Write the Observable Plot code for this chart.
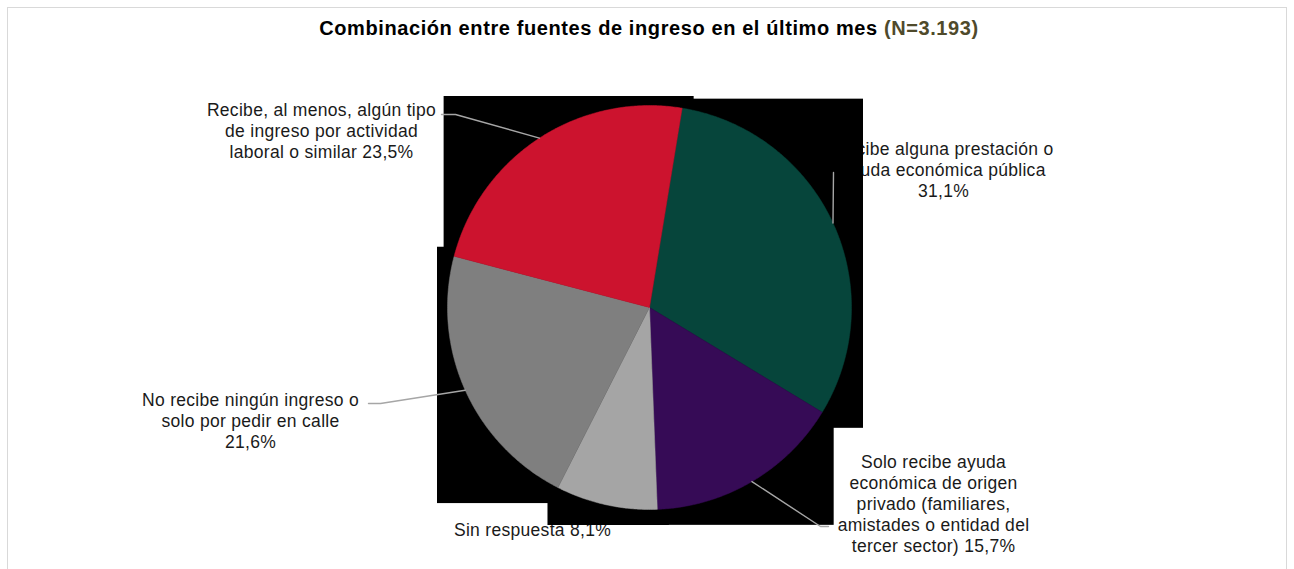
<!DOCTYPE html>
<html><head><meta charset="utf-8">
<script src="https://cdn.jsdelivr.net/npm/d3@7"></script>
<script src="https://cdn.jsdelivr.net/npm/@observablehq/plot@0.6"></script>
<style>
body{margin:0;background:#fff;font-family:"Liberation Sans",Arial,sans-serif;}
#wrap{position:relative;width:1294px;height:569px;overflow:hidden;background:#fff;}
#frame{position:absolute;left:7px;top:7px;width:1280px;height:600px;border:1px solid #d9d9d9;box-sizing:border-box;}
#title{position:absolute;left:0;top:17px;width:1298px;text-align:center;font-weight:bold;font-size:20px;letter-spacing:0.6px;color:#000;z-index:2;}
#chart{position:absolute;left:0;top:0;z-index:1;}
</style></head><body>
<div id="wrap"><div id="frame"></div><div id="chart"></div><div id="title">Combinación entre fuentes de ingreso en el último mes <span style="color:#4f4a2b">(N=3.193)</span></div></div>
<script>
// ---- data (clockwise order) ----
const categories = [
  "Recibe alguna prestación o ayuda económica pública",
  "Solo recibe ayuda económica de origen privado (familiares, amistades o entidad del tercer sector)",
  "Sin respuesta",
  "No recibe ningún ingreso o solo por pedir en calle",
  "Recibe, al menos, algún tipo de ingreso por actividad laboral o similar"
];
const values = [31.1, 15.7, 8.1, 21.6, 23.5];
const labelTexts = [
  "Recibe alguna prestación o\nayuda económica pública\n31,1%",
  "Solo recibe ayuda\neconómica de origen\nprivado (familiares,\namistades o entidad del\ntercer sector) 15,7%",
  "Sin respuesta 8,1%",
  "No recibe ningún ingreso o\nsolo por pedir en calle\n21,6%",
  "Recibe, al menos, algún tipo\nde ingreso por actividad\nlaboral o similar 23,5%"
];
const colors = ["#06453b", "#360b56", "#a5a5a5", "#7f7f7f", "#cc132e"];

// ---- layout (pixels) ----
const W = 1294, H = 569;
const CX = 649, CY = 307, R = 202;
const startDeg = 9.3;
// label: center x, top y ; leader: elbow, end (null = no leader)
const labelLayout = [
  {x: 943, top: 140, elbow: [833, 172], end: [833, 172]},
  {x: 933, top: 453, elbow: [820, 526], end: [828, 526]},
  {x: 532, top: 521, elbow: null, end: null},
  {x: 250, top: 391, elbow: [380, 403], end: [368, 403]},
  {x: 321, top: 101, elbow: [455, 114], end: [441, 114]}
];
const pad = {left: 10, right: 12, top: 9, bottom: 16};

const ux = px => (px - CX) / R;
const uy = py => (CY - py) / R;

const total = d3.sum(values);
const rad = d => d * Math.PI / 180;
let acc = rad(startDeg);
const slices = values.map((v, i) => {
  const a0 = acc, a1 = acc + v / total * 2 * Math.PI;
  acc = a1;
  return {i, a0, a1, mid: (a0 + a1) / 2, color: colors[i], cat: categories[i]};
});

// slice polygons
const slicePts = [];
for (const s of slices) {
  slicePts.push({k: s.i, x: 0, y: 0, c: s.color});
  const n = Math.max(2, Math.ceil((s.a1 - s.a0) / rad(0.5)));
  for (let j = 0; j <= n; j++) {
    const a = s.a0 + (s.a1 - s.a0) * j / n;
    slicePts.push({k: s.i, x: Math.sin(a), y: Math.cos(a), c: s.color});
  }
  slicePts.push({k: s.i, x: 0, y: 0, c: s.color});
}

// shadow boxes (bounding box of each slice)
const boxes = slices.map(s => {
  const pts = [[0, 0], [Math.sin(s.a0), Math.cos(s.a0)], [Math.sin(s.a1), Math.cos(s.a1)]];
  for (let k = 0; k < 8; k++) {
    const a = k * Math.PI / 2;
    if (a > s.a0 && a < s.a1) pts.push([Math.sin(a), Math.cos(a)]);
  }
  return {
    x1: d3.min(pts, p => p[0]) - pad.left / R,
    x2: d3.max(pts, p => p[0]) + pad.right / R,
    y1: d3.min(pts, p => p[1]) - pad.bottom / R,
    y2: d3.max(pts, p => p[1]) + pad.top / R
  };
});

// labels
const labelData = slices.map(s => ({
  x: ux(labelLayout[s.i].x), y: uy(labelLayout[s.i].top), text: labelTexts[s.i]
}));

// leader lines
const leaderPts = [];
for (const s of slices) {
  const L = labelLayout[s.i];
  if (!L.elbow) continue;
  leaderPts.push({k: s.i, x: Math.sin(s.mid), y: Math.cos(s.mid)});
  leaderPts.push({k: s.i, x: ux(L.elbow[0]), y: uy(L.elbow[1])});
  leaderPts.push({k: s.i, x: ux(L.end[0]), y: uy(L.end[1])});
}

const chart = Plot.plot({
  width: W, height: H,
  margin: 0,
  x: {domain: [ux(0), ux(W)], axis: null},
  y: {domain: [uy(H), uy(0)], axis: null},
  color: {type: "identity"},
  style: {background: "transparent", fontFamily: "'Liberation Sans', Arial, sans-serif", letterSpacing: "0.3px"},
  marks: [
    Plot.text(labelData, {x: "x", y: "y", text: "text", lineAnchor: "top", textAnchor: "middle",
      fontSize: 17.5, lineHeight: 1.2, fill: "#1a1a1a"}),
    Plot.rect(boxes, {x1: "x1", x2: "x2", y1: "y1", y2: "y2", fill: "black"}),
    Plot.line(slicePts, {x: "x", y: "y", z: "k", fill: "c", stroke: "c", strokeWidth: 0.5, curve: "linear"}),
    Plot.line(leaderPts, {x: "x", y: "y", z: "k", stroke: "#a6a6a6", strokeWidth: 1.4, curve: "linear"})
  ]
});
document.getElementById("chart").appendChild(chart);
</script>
</body></html>
